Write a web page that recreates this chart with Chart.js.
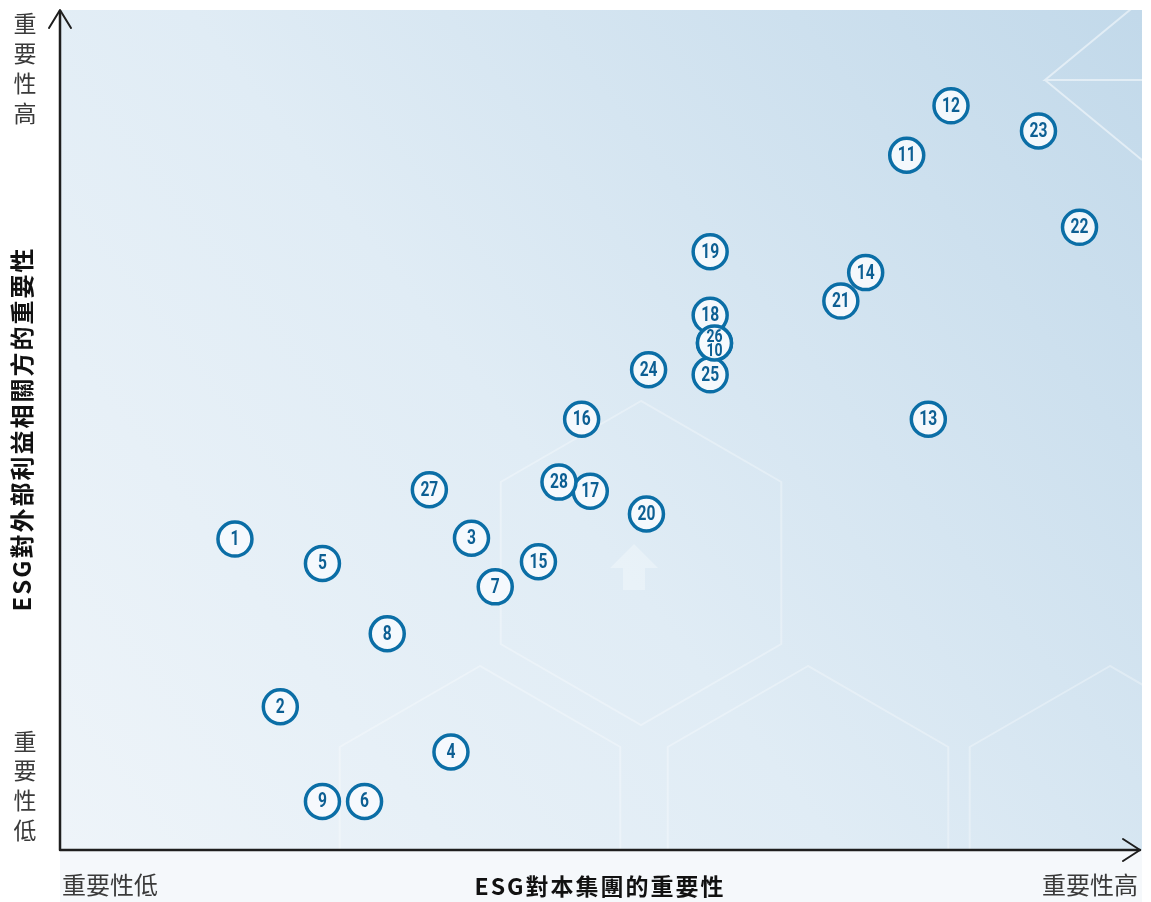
<!DOCTYPE html>
<html>
<head>
<meta charset="utf-8">
<script src="https://cdn.jsdelivr.net/npm/chart.js@4"></script>
<style>
  html, body { margin: 0; padding: 0; background: #ffffff; }
  #wrap { width: 1151px; height: 902px; }
</style>
</head>
<body>
<div id="wrap"><canvas id="matrix"></canvas></div>
<script>
// issue numbers and their scores (0-100 on both axes)
var issues = ['1','2','3','4','5','6','7','8','9','10','11','12','13','14','15','16','17','18','19','20','21','22','23','24','25','26','27','28'];
var groupScore = [16.2, 20.4, 38.1, 36.2, 24.3, 28.2, 40.3, 30.3, 24.3, 60.6, 78.4, 82.5, 80.4, 74.6, 44.3, 48.3, 49.1, 60.2, 60.2, 54.3, 72.3, 94.4, 90.6, 54.5, 60.2, 60.6, 34.2, 46.2];
var stakeholderScore = [37.1, 17.1, 37.2, 11.7, 34.2, 5.8, 31.4, 25.8, 5.8, 60.5, 82.9, 88.8, 51.4, 68.9, 34.4, 51.4, 42.8, 63.8, 71.4, 40.1, 65.5, 74.3, 85.8, 57.3, 56.7, 60.5, 43.0, 43.9];

var xTitle = 'ESG對本集團的重要性';
var yTitle = 'ESG對外部利益相關方的重要性';
var lowLabel = '重要性低';
var highLabel = '重要性高';

var cjk = '"Noto Sans CJK TC", "Noto Sans CJK SC", sans-serif';
var blue = '#0b6ea6';

var points = issues.map(function (id, i) {
    return { x: groupScore[i], y: stakeholderScore[i], id: id };
});

function hexagon(ctx, cx, cy, r) {
    ctx.beginPath();
    for (var k = 0; k < 6; k++) {
        var a = Math.PI / 2 + k * Math.PI / 3;
        var px = cx + r * Math.cos(a), py = cy - r * Math.sin(a);
        if (k === 0) ctx.moveTo(px, py); else ctx.lineTo(px, py);
    }
    ctx.closePath();
    ctx.stroke();
}

var backdrop = {
    id: 'backdrop',
    beforeDraw: function (chart) {
        var ctx = chart.ctx, a = chart.chartArea;
        ctx.save();
        var g = ctx.createLinearGradient(a.left, a.bottom, a.right, a.top);
        g.addColorStop(0, '#eef4f9');
        g.addColorStop(0.45, '#e0ecf5');
        g.addColorStop(1, '#c2d9ea');
        ctx.fillStyle = g;
        ctx.fillRect(a.left, a.top - 2, a.right - a.left + 2, a.bottom - a.top + 2);
        // light band below the axis
        ctx.fillStyle = '#f5f8fb';
        ctx.fillRect(a.left, a.bottom, a.right - a.left + 2, 52);
        // faint decorative hexagons
        ctx.beginPath();
        ctx.rect(a.left, a.top - 2, a.right - a.left + 2, a.bottom - a.top + 2);
        ctx.clip();
        ctx.strokeStyle = 'rgba(255,255,255,0.3)';
        ctx.lineWidth = 2;
        hexagon(ctx, 641, 563, 162);
        hexagon(ctx, 808, 828, 162);
        hexagon(ctx, 1110, 828, 162);
        hexagon(ctx, 480, 828, 162);
        ctx.strokeStyle = 'rgba(255,255,255,0.5)';
        ctx.beginPath();
        ctx.moveTo(1142, 0); ctx.lineTo(1045, 80); ctx.lineTo(1142, 80);
        ctx.moveTo(1045, 80); ctx.lineTo(1142, 160);
        ctx.stroke();
        // faint up arrow
        ctx.fillStyle = 'rgba(255,255,255,0.3)';
        ctx.beginPath();
        ctx.moveTo(634, 544); ctx.lineTo(658, 568); ctx.lineTo(645, 568); ctx.lineTo(645, 590);
        ctx.lineTo(623, 590); ctx.lineTo(623, 568); ctx.lineTo(610, 568); ctx.closePath();
        ctx.fill();
        ctx.restore();
    }
};

var labels = {
    id: 'labels',
    afterDatasetsDraw: function (chart) {
        var ctx = chart.ctx;
        var meta = chart.getDatasetMeta(0);
        ctx.save();
        ctx.fillStyle = '#0d5f93';
        ctx.textAlign = 'center';
        ctx.textBaseline = 'middle';
        meta.data.forEach(function (el, i) {
            var p = points[i];
            // points sharing a spot get stacked labels
            var twin = points.findIndex(function (q, j) { return j !== i && q.x === p.x && q.y === p.y; });
            var dy = 1;
            var size = 20;
            if (twin >= 0) {
                size = 18;
                dy = (Number(p.id) > Number(points[twin].id)) ? -6 : 8;
            }
            // condensed look: squeeze the glyphs horizontally
            ctx.save();
            ctx.translate(el.x, el.y + dy);
            ctx.scale(0.78, 1);
            ctx.font = 'bold ' + size + 'px Roboto, "Open Sans", sans-serif';
            ctx.fillText(p.id, 0, 0);
            ctx.restore();
        });
        ctx.restore();
    }
};

var axes = {
    id: 'axes',
    afterDraw: function (chart) {
        var ctx = chart.ctx, a = chart.chartArea;
        ctx.save();
        ctx.strokeStyle = '#1e1e1e';
        ctx.lineWidth = 2.5;
        ctx.lineCap = 'round';
        ctx.lineJoin = 'round';
        ctx.beginPath();
        ctx.moveTo(a.left, a.top - 1);
        ctx.lineTo(a.left, a.bottom);
        ctx.lineTo(a.right, a.bottom);
        ctx.stroke();
        ctx.lineWidth = 2;
        ctx.beginPath();
        ctx.moveTo(a.left - 11, a.top + 16); ctx.lineTo(a.left, a.top - 2); ctx.lineTo(a.left + 11, a.top + 16);
        ctx.moveTo(a.right - 17, a.bottom - 11); ctx.lineTo(a.right, a.bottom); ctx.lineTo(a.right - 17, a.bottom + 11);
        ctx.stroke();

        ctx.textBaseline = 'middle';
        ctx.fillStyle = '#111';
        ctx.font = 'bold 23px ' + cjk;
        ctx.letterSpacing = '2px';
        ctx.textAlign = 'center';
        ctx.fillText(xTitle, (a.left + a.right) / 2, 886);

        ctx.save();
        ctx.translate(22, 429);
        ctx.rotate(-Math.PI / 2);
        ctx.font = 'bold 24px ' + cjk;
        ctx.letterSpacing = '2px';
        ctx.fillText(yTitle, 0, 0);
        ctx.restore();

        ctx.letterSpacing = '0px';
        ctx.fillStyle = '#3a3a3a';
        ctx.font = '24px ' + cjk;
        ctx.textAlign = 'left';
        ctx.fillText(lowLabel, a.left + 2, 885);
        ctx.textAlign = 'right';
        ctx.fillText(highLabel, a.right - 2, 885);

        ctx.font = '23px ' + cjk;
        ctx.textAlign = 'center';
        var hi = highLabel.split(''), lo = lowLabel.split('');
        hi.forEach(function (ch, k) { ctx.fillText(ch, 25, 23 + k * 30); });
        lo.forEach(function (ch, k) { ctx.fillText(ch, 25, 741 + k * 29.7); });
        ctx.restore();
    }
};

new Chart(document.getElementById('matrix'), {
    type: 'scatter',
    data: {
        datasets: [{
            label: 'ESG',
            data: points,
            pointRadius: 17,
            pointHoverRadius: 17,
            pointBorderWidth: 3.5,
            pointHoverBorderWidth: 3.5,
            pointBackgroundColor: 'rgba(246,250,253,0.92)',
            pointBorderColor: blue
        }]
    },
    options: {
        responsive: true,
        maintainAspectRatio: false,
        animation: false,
        layout: { autoPadding: false, padding: { left: 60, right: 11, top: 12, bottom: 52 } },
        plugins: {
            legend: { display: false },
            tooltip: { enabled: false }
        },
        scales: {
            x: { type: 'linear', min: 0, max: 100, display: false },
            y: { type: 'linear', min: 0, max: 100, display: false }
        }
    },
    plugins: [backdrop, labels, axes]
});
</script>
</body>
</html>
